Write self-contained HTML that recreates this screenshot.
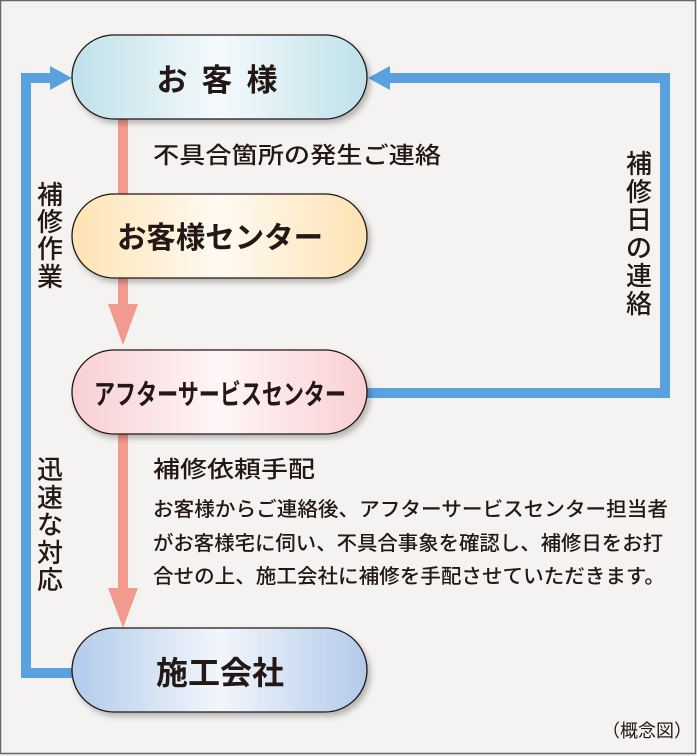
<!DOCTYPE html>
<html><head><meta charset="utf-8"><style>
html,body{margin:0;padding:0;background:#f4f3f1}
svg{display:block}
text{font-family:"Liberation Sans","Noto Sans CJK JP",sans-serif;fill:#231815}
</style></head><body>
<svg width="697" height="756" viewBox="0 0 697 756" xmlns="http://www.w3.org/2000/svg">
<defs>
<linearGradient id="g1" x1="0" x2="1"><stop offset="0" stop-color="#bfe0ea"/><stop offset="0.5" stop-color="#f4fafc"/><stop offset="1" stop-color="#bfe0ea"/></linearGradient>
<linearGradient id="g2" x1="0" x2="1"><stop offset="0" stop-color="#fde3b3"/><stop offset="0.5" stop-color="#fffaf2"/><stop offset="1" stop-color="#fde3b3"/></linearGradient>
<linearGradient id="g3" x1="0" x2="1"><stop offset="0" stop-color="#f8cfd2"/><stop offset="0.5" stop-color="#fff6f7"/><stop offset="1" stop-color="#f8cfd2"/></linearGradient>
<linearGradient id="g4" x1="0" x2="1"><stop offset="0" stop-color="#b2cbea"/><stop offset="0.5" stop-color="#f2f6fc"/><stop offset="1" stop-color="#b2cbea"/></linearGradient>
<filter id="sh" x="-10%" y="-20%" width="130%" height="150%"><feDropShadow dx="3" dy="4" stdDeviation="3" flood-color="#000" flood-opacity="0.25"/></filter>
</defs>
<rect x="0.5" y="0.5" width="695" height="753" fill="#f4f3f1" stroke="#666" stroke-width="1.5"/>
<g fill="#5aa1df">
<rect x="21" y="73" width="10" height="605"/>
<rect x="21" y="668" width="52" height="10"/>
<rect x="21" y="73" width="30" height="10"/>
<polygon points="50,66 72,78 50,90"/>
<rect x="660" y="73" width="10" height="325"/>
<rect x="388" y="73" width="282" height="10"/>
<polygon points="390,66 368,78 390,90"/>
<rect x="360" y="388" width="310" height="10"/>
</g>
<g fill="#f29a8f">
<rect x="118" y="115" width="10" height="85"/>
<rect x="118" y="275" width="10" height="30"/>
<polygon points="108,304 138,304 123,345"/>
<rect x="118" y="430" width="10" height="160"/>
<polygon points="108,588 138,588 123,628"/>
</g>
<g stroke="#231815" stroke-width="1.3" filter="url(#sh)">
<rect x="72" y="35" width="295" height="84" rx="42" fill="url(#g1)"/>
<rect x="72" y="194" width="295" height="84" rx="42" fill="url(#g2)"/>
<rect x="72" y="350" width="295" height="84" rx="42" fill="url(#g3)"/>
<rect x="72" y="628" width="295" height="84" rx="42" fill="url(#g4)"/>
</g>
<g font-weight="bold" text-anchor="middle">
<text x="224" y="91" font-size="31" letter-spacing="14">お客様</text>
<text x="220" y="248" font-size="30" textLength="206" lengthAdjust="spacingAndGlyphs">お客様センター</text>
<text x="220" y="404" font-size="28" textLength="252" lengthAdjust="spacingAndGlyphs">アフターサービスセンター</text>
<text x="220" y="684" font-size="32">施工会社</text>
</g>
<g font-weight="500">
<text x="153" y="163" font-size="23" textLength="288" lengthAdjust="spacingAndGlyphs">不具合箇所の発生ご連絡</text>
<text x="153" y="477" font-size="23" textLength="162" lengthAdjust="spacingAndGlyphs">補修依頼手配</text>
<g font-size="20">
<text x="153" y="516" textLength="515" lengthAdjust="spacingAndGlyphs">お客様からご連絡後、アフターサービスセンター担当者</text>
<text x="153" y="550" textLength="510" lengthAdjust="spacingAndGlyphs">がお客様宅に伺い、不具合事象を確認し、補修日をお打</text>
<text x="153" y="583" textLength="512" lengthAdjust="spacingAndGlyphs">合せの上、施工会社に補修を手配させていただきます。</text>
</g>
<g font-size="26" text-anchor="middle">
<text x="50" y="204">補</text><text x="50" y="231">修</text><text x="50" y="258">作</text><text x="50" y="286">業</text>
<text x="50" y="479">迅</text><text x="50" y="507">速</text><text x="50" y="534">な</text><text x="50" y="562">対</text><text x="50" y="589">応</text>
<text x="639" y="173">補</text><text x="639" y="201">修</text><text x="639" y="229">日</text><text x="639" y="257">の</text><text x="639" y="285">連</text><text x="639" y="313">絡</text>
</g>
</g>
<text x="602" y="737" font-size="18" font-family="'Liberation Serif','Noto Serif CJK SC',serif">（概念図）</text>
</svg>
</body></html>
